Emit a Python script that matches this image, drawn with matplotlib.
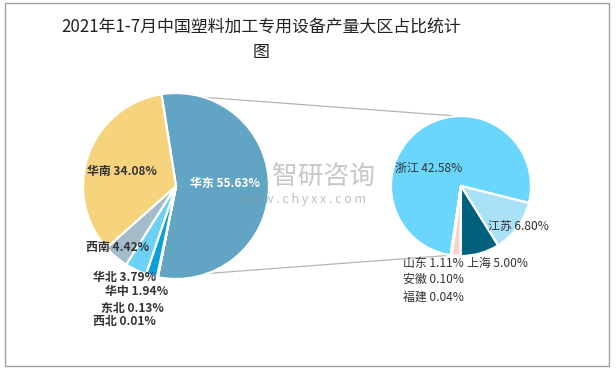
import matplotlib.pyplot as plt
from matplotlib.patches import Rectangle
import numpy as np

plt.rcParams['font.family'] = ['Noto Sans CJK SC', 'DejaVu Sans']

W, H = 616, 371

# 大区数据（顺时针，从华东开始）
regions = ['华东', '西北', '东北', '华中', '华北', '西南', '华南']
region_vals = [55.63, 0.01, 0.13, 1.94, 3.79, 4.42, 34.08]
region_colors = ['#62A4C4', '#9E9E9E', '#1F6E8C', '#0A9FDA', '#6DD0F7', '#A2BCCA', '#F7D37E']

# 华东省份数据
provs = ['浙江', '江苏', '上海', '山东', '安徽', '福建']
prov_vals = [42.58, 6.80, 5.00, 1.11, 0.10, 0.04]
prov_colors = ['#6AD5FD', '#A8E1F8', '#00617F', '#F8D3CC', '#F2A58E', '#C9C9C9']

def py(y):
    # 像素坐标(向下) -> 数据坐标(向上)
    return H - y

fig = plt.figure(figsize=(W / 100, H / 100), dpi=100)
ax = fig.add_axes([0, 0, 1, 1])

c1, r1 = (176, py(186)), 93
c2, r2 = (461, py(186)), 70

w1, _ = ax.pie(region_vals, colors=region_colors, startangle=99, counterclock=False,
               center=c1, radius=r1, wedgeprops=dict(edgecolor='white', linewidth=1.6))
w2, _ = ax.pie(prov_vals, colors=prov_colors, startangle=261.5, counterclock=False,
               center=c2, radius=r2, wedgeprops=dict(edgecolor='white', linewidth=1.6))

ax.set_xlim(0, W)
ax.set_ylim(0, H)
ax.set_aspect('equal')
ax.axis('off')

# 连接线：华东扇区两端 -> 右侧饼图
def pt(c, r, ang):
    a = np.deg2rad(ang)
    return c[0] + r * np.cos(a), c[1] + r * np.sin(a)

east = w1[0]
top_a = pt(c1, r1, east.theta2)
bot_a = pt(c1, r1, east.theta1)
top_b = pt(c2, r2, 93)
bot_b = pt(c2, r2, w2[0].theta2)
ax.plot([top_a[0], top_b[0]], [top_a[1], top_b[1]], color='#B4B4B4', lw=0.9, zorder=0)
ax.plot([bot_a[0], bot_b[0]], [bot_a[1], bot_b[1]], color='#B4B4B4', lw=0.9, zorder=0)

# 水印
ax.text(272, py(177), '智研咨询', fontsize=18.5, color='#9A9A9A', alpha=0.55, va='center', ha='left')
ax.text(238, py(199), 'w w w . c h y x x . c o m', fontsize=9, color='#8A9AA5', alpha=0.6,
        va='center', ha='left')

# 标签
left_pos = {'华南': (87, 172), '华东': (190, 183), '西南': (86, 248), '华北': (93, 277),
            '华中': (105, 291), '东北': (101, 308), '西北': (93, 321)}
for name, v in zip(regions, region_vals):
    x, y = left_pos[name]
    ax.text(x, py(y), f'{name} {v:.2f}%', fontsize=8.6, fontweight='bold',
            color='white' if name == '华东' else '#333333', va='center', ha='left')

right_pos = {'浙江': (395, 168), '江苏': (488, 226), '山东': (403, 263), '上海': (467, 263),
             '安徽': (403, 279), '福建': (403, 297)}
for name, v in zip(provs, prov_vals):
    x, y = right_pos[name]
    ax.text(x, py(y), f'{name} {v:.2f}%', fontsize=8.6, color='#333333', va='center', ha='left')

# 标题
ax.text(261, py(27), '2021年1-7月中国塑料加工专用设备产量大区占比统计', fontsize=12.2,
        fontweight='medium', color='#222222', ha='center', va='center')
ax.text(261, py(52), '图', fontsize=12.2, fontweight='medium', color='#222222',
        ha='center', va='center')

# 外框
ax.add_patch(Rectangle((5, py(366)), 604, 363, fill=False, edgecolor='#A0A0A0', lw=1))

fig.savefig('out.png', dpi=100)
